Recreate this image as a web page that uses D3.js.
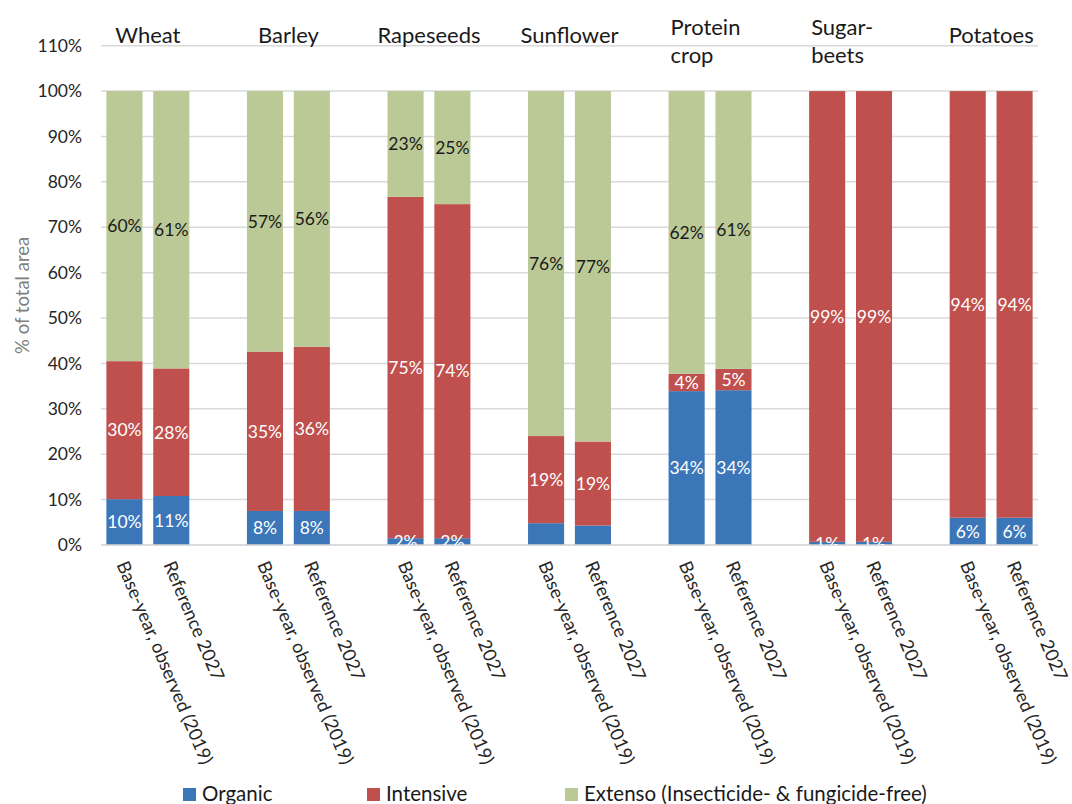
<!DOCTYPE html>
<html>
<head>
<meta charset="utf-8">
<script src="https://cdn.jsdelivr.net/npm/d3@7"></script>
<style>
  html, body { margin: 0; padding: 0; background: #fff; }
  svg { display: block; font-family: Lato, "Open Sans", sans-serif; }
</style>
</head>
<body>
<svg id="chart" width="1072" height="804"></svg>
<script>
// ---------------- data ----------------
const categories = ["Wheat", "Barley", "Rapeseeds", "Sunflower", "Protein crop", "Sugar-beets", "Potatoes"];
const headerLines = [["Wheat"], ["Barley"], ["Rapeseeds"], ["Sunflower"], ["Protein", "crop"], ["Sugar-", "beets"], ["Potatoes"]];
const scenarios = ["Base-year, observed (2019)", "Reference 2027"];
const seriesNames = ["Organic", "Intensive", "Extenso (Insecticide- & fungicide-free)"];
const seriesColors = ["#3A76B8", "#C0504D", "#BAC996"];
const labelColors = ["#ffffff", "#ffffff", "#1a1a1a"];
// values per bar, in order: category × scenario
const organic   = [10.1, 10.8, 7.5, 7.5, 1.5, 1.5, 4.8, 4.3, 33.9, 34.1, 0.7, 0.7, 6.0, 6.0];
const intensive = [30.4, 28.1, 35.1, 36.2, 75.2, 73.6, 19.2, 18.5, 3.8, 4.7, 99.3, 99.3, 94.0, 94.0];
const extenso   = [59.5, 61.1, 57.4, 56.3, 23.3, 24.9, 76.0, 77.2, 62.3, 61.2, 0, 0, 0, 0];
const organicLabelHidden = ["Sunflower"];
const yTicks = [0, 10, 20, 30, 40, 50, 60, 70, 80, 90, 100, 110];
const yTitle = "% of total area";

// ---------------- layout ----------------
const svg = d3.select("#chart");
const plot = { left: 101, right: 1038, top: 45.7, bottom: 545 };

// slots: two bars per category plus one empty slot between groups
const slots = [];
categories.forEach((c, ci) => {
  scenarios.forEach((s, si) => slots.push({ key: c + "|" + s, cat: c, ci, si, idx: ci * 2 + si }));
  if (ci < categories.length - 1) slots.push({ key: c + "|gap", gap: true });
});

const x = d3.scaleBand()
  .domain(slots.map(d => d.key))
  .range([plot.left, plot.right])
  .paddingInner(0.23)
  .paddingOuter(0.115);

const y = d3.scaleLinear().domain([0, 110]).range([plot.bottom, plot.top]);

// gridlines
svg.append("g")
  .selectAll("line")
  .data(yTicks)
  .join("line")
  .attr("x1", plot.left).attr("x2", plot.right)
  .attr("y1", d => y(d)).attr("y2", d => y(d))
  .attr("stroke", "#d9d9d9").attr("stroke-width", 1.5);

// y axis labels
const yAxis = d3.axisLeft(y).tickValues(yTicks).tickFormat(d => d + "%").tickSize(0).tickPadding(0);
const yg = svg.append("g").attr("transform", `translate(${plot.left - 19},0)`).call(yAxis);
yg.select(".domain").remove();
yg.selectAll("text")
  .attr("font-family", "Lato, sans-serif")
  .attr("font-size", 17.5)
  .attr("fill", "#262626");

// y title
svg.append("text")
  .attr("transform", `translate(29,${(plot.top + plot.bottom) / 2}) rotate(-90)`)
  .attr("text-anchor", "middle")
  .attr("font-size", 18.5)
  .attr("fill", "#7f7f7f")
  .text(yTitle);

// stacked data
const bars = slots.filter(d => !d.gap).map(d => ({
  ...d,
  values: [organic[d.idx], intensive[d.idx], extenso[d.idx]]
}));
const segs = [];
bars.forEach(b => {
  let acc = 0;
  b.values.forEach((v, k) => {
    segs.push({ bar: b, k, y0: acc, y1: acc + v, v });
    acc += v;
  });
});

svg.append("g")
  .selectAll("rect")
  .data(segs.filter(s => s.v > 0))
  .join("rect")
  .attr("x", s => x(s.bar.key))
  .attr("width", x.bandwidth())
  .attr("y", s => y(s.y1))
  .attr("height", s => y(s.y0) - y(s.y1))
  .attr("fill", s => seriesColors[s.k]);

// clip for labels (plot area)
svg.append("clipPath").attr("id", "plotclip")
  .append("rect")
  .attr("x", 0).attr("y", plot.top - 30)
  .attr("width", 1072).attr("height", plot.bottom - plot.top + 30);

// baseline axis line
svg.append("line")
  .attr("x1", plot.left).attr("x2", plot.right)
  .attr("y1", y(0)).attr("y2", y(0))
  .attr("stroke", "#d9d9d9").attr("stroke-width", 1.5);

// data labels
svg.append("g").attr("clip-path", "url(#plotclip)")
  .selectAll("text")
  .data(segs.filter(s => s.v > 0 && !(s.k === 0 && organicLabelHidden.includes(s.bar.cat))))
  .join("text")
  .attr("x", s => x(s.bar.key) + x.bandwidth() / 2)
  .attr("y", s => y((s.y0 + s.y1) / 2))
  .attr("dy", "0.36em")
  .attr("text-anchor", "middle")
  .attr("font-size", 17.5)
  .attr("fill", s => labelColors[s.k])
  .text(s => Math.round(s.v) + "%");

// rotated x tick labels
svg.append("g")
  .selectAll("text")
  .data(bars)
  .join("text")
  .attr("transform", b => `translate(${x(b.key) + x.bandwidth() / 2 - 2},562) rotate(67)`)
  .attr("dy", "0.36em")
  .attr("text-anchor", "start")
  .attr("font-size", 18.3)
  .attr("fill", "#262626")
  .text(b => scenarios[b.si]);

// category headers
categories.forEach((c, ci) => {
  const b0 = x(c + "|" + scenarios[0]);
  const b1 = x(c + "|" + scenarios[1]) + x.bandwidth();
  const lines = headerLines[ci];
  const t = svg.append("text")
    .attr("font-size", 22)
    .attr("fill", "#1a1a1a");
  if (lines.length === 1) {
    t.attr("x", (b0 + b1) / 2).attr("y", 43).attr("text-anchor", "middle").text(lines[0]);
  } else {
    lines.forEach((ln, li) => {
      t.append("tspan").attr("x", b0 + 2).attr("y", 35 + li * 28).text(ln);
    });
  }
});

// legend
const legendX = [183, 367, 565];
const lg = svg.append("g");
seriesNames.forEach((n, i) => {
  lg.append("rect")
    .attr("x", legendX[i]).attr("y", 788)
    .attr("width", 13).attr("height", 13)
    .attr("fill", seriesColors[i]);
  lg.append("text")
    .attr("x", legendX[i] + 19).attr("y", 801)
    .attr("font-size", 20.5)
    .attr("fill", "#1a1a1a")
    .text(n);
});
</script>
</body>
</html>
